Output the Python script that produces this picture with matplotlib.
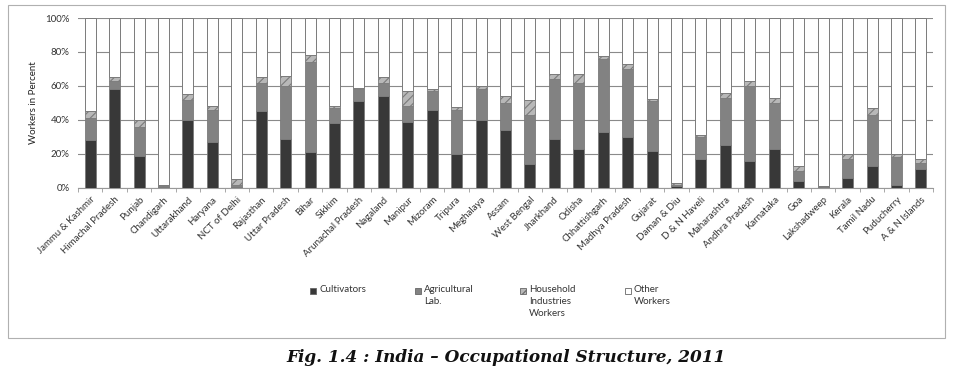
import matplotlib.pyplot as plt
import matplotlib.patches as mpatches
import numpy as np

# Dane: udział pracowników (%) wg stanów, 2011
states = ["Jammu & Kashmir", "Himachal Pradesh", "Punjab", "Chandigarh", "Uttarakhand",
          "Haryana", "NCT of Delhi", "Rajasthan", "Uttar Pradesh", "Bihar", "Sikkim",
          "Arunachal Pradesh", "Nagaland", "Manipur", "Mizoram", "Tripura", "Meghalaya",
          "Assam", "West Bengal", "Jharkhand", "Odisha", "Chhattishgarh", "Madhya Pradesh",
          "Gujarat", "Daman & Diu", "D & N Haveli", "Maharashtra", "Andhra Pradesh",
          "Karnataka", "Goa", "Lakshadweep", "Kerala", "Tamil Nadu", "Puducherry",
          "A & N Islands"]
cultivators = [28, 58, 19, 0.5, 40, 27, 0.5, 45, 29, 21, 38, 51, 54, 39, 46, 20, 40,
               34, 14, 29, 23, 33, 30, 22, 1, 17, 25, 16, 23, 4, 0.3, 6, 13, 1.5, 11]
agri_lab = [13, 5, 17, 0.5, 12, 19, 1, 17, 31, 53, 9, 7, 8, 9, 11, 26, 18,
            16, 29, 35, 39, 43, 40, 29, 1, 13, 28, 44, 27, 6, 0.3, 11, 30, 17, 3.5]
household = [4, 2, 4, 1, 3, 2, 3.5, 3, 6, 4, 1, 1, 3, 9, 1, 1.5, 2,
             4, 9, 3, 5, 1.5, 3, 1.5, 1, 1, 3, 3, 3, 3, 0.5, 3, 4, 1.5, 2.5]

cultivators = np.array(cultivators)
agri_lab = np.array(agri_lab)
household = np.array(household)
other = 100 - cultivators - agri_lab - household

legend_labels = ["Cultivators", "Agricultural\nLab.", "Household\nIndustries\nWorkers", "Other\nWorkers"]

plt.rcParams['font.family'] = ['Lato', 'DejaVu Sans']
plt.rcParams['hatch.color'] = 'white'
plt.rcParams['hatch.linewidth'] = 0.8

fig = plt.figure(figsize=(9.58, 3.75), dpi=100)
ax = fig.add_axes([0.0814, 0.4987, 0.8926, 0.4533])

x = np.arange(len(states))
w = 0.45
edge = '#7a7a7a'
ax.bar(x, cultivators, w, color='#383838', edgecolor=edge, linewidth=0.6, zorder=3)
ax.bar(x, agri_lab, w, bottom=cultivators, color='#828282', edgecolor=edge, linewidth=0.6, zorder=3)
ax.bar(x, household, w, bottom=cultivators + agri_lab, color='#b8b8b8', edgecolor=edge,
       hatch='////', linewidth=0.6, zorder=3)
ax.bar(x, other, w, bottom=cultivators + agri_lab + household, color='white',
       edgecolor=edge, linewidth=0.7, zorder=3)

ax.set_xlim(-0.5, len(states) - 0.5)
ax.set_ylim(0, 100)
ax.set_yticks(np.arange(0, 101, 20))
ax.set_yticklabels([f"{v}%" for v in range(0, 101, 20)], fontsize=7, color='#333333')
ax.yaxis.grid(True, color='#8a8a8a', linewidth=0.8, zorder=0)
ax.tick_params(axis='y', length=0, pad=6)

ax.set_xticks(x)
ax.set_xticklabels(states, rotation=45, ha='right', rotation_mode='anchor', fontsize=7, color='#333333')
ax.set_xticks(np.arange(-0.5, len(states), 1), minor=True)
ax.tick_params(axis='x', which='major', length=0, pad=5)
ax.tick_params(axis='x', which='minor', length=3, color='#999999')

for s in ['top', 'right', 'left']:
    ax.spines[s].set_visible(False)
ax.spines['bottom'].set_color('#999999')

ax.set_ylabel("Workers in Percent", fontsize=7, color='#222222', labelpad=5)

# Legenda - ręcznie, cztery kolumny
leg_x = [310, 415, 520, 625]
styles = [dict(facecolor='#383838'), dict(facecolor='#828282'),
          dict(facecolor='#b8b8b8', hatch='////'), dict(facecolor='white')]
for lx, lab, st in zip(leg_x, legend_labels, styles):
    fig.patches.append(mpatches.Rectangle((lx / 958, 1 - 294 / 375), 6 / 958, 6 / 375,
                                          edgecolor='#666666', linewidth=0.6,
                                          transform=fig.transFigure, **st))
    fig.text((lx + 9) / 958, 1 - 285 / 375, lab, fontsize=7, color='#333333',
             va='top', ha='left', linespacing=1.45)

# Ramka wykresu
fig.patches.append(mpatches.Rectangle((8 / 958, 1 - 338 / 375), 937 / 958, 333 / 375,
                                      fill=False, edgecolor='#b0b0b0', linewidth=0.8,
                                      transform=fig.transFigure))

fig.text(506 / 958, 1 - 357 / 375, "Fig. 1.4 : India – Occupational Structure, 2011",
         fontsize=12.2, fontweight='bold', style='italic', family='DejaVu Serif',
         ha='center', va='center', color='#111111')

plt.savefig('out.png', dpi=100)
